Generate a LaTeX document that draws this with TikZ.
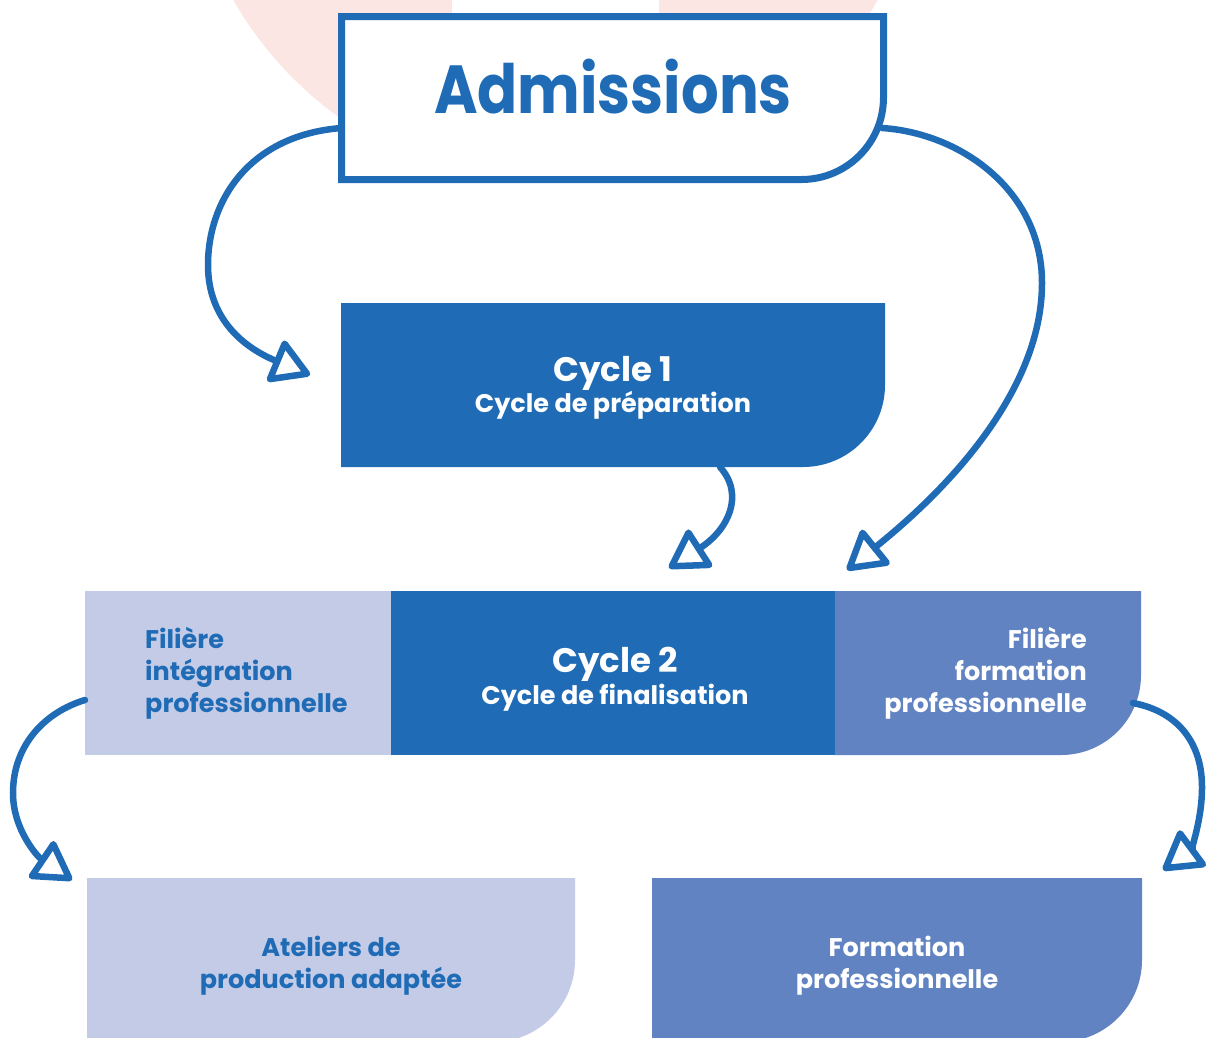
\documentclass[tikz,border=0pt]{standalone}
\usepackage{fontspec}
\setmainfont{Poppins}
\usetikzlibrary{arrows.meta}
\definecolor{dblue}{HTML}{1F6BB5}
\definecolor{lblue}{HTML}{C3CBE7}
\definecolor{mblue}{HTML}{6283C2}
\definecolor{pinkbg}{HTML}{FCE6E4}
\pgfdeclarelayer{bgpink}
\pgfdeclarelayer{bgbox}
\pgfsetlayers{bgpink,bgbox,main}
\newcommand\rshape[3]{\path[#2] (#1.north west) -- (#1.north east) -- ([yshift=#3]#1.south east) arc[start angle=0,end angle=-90,radius=#3] -- (#1.south west) -- cycle;}
\begin{document}
\begin{tikzpicture}[x=1pt,y=-1pt,
  boxn/.style={draw=none, inner sep=0pt, outer sep=0pt, rectangle},
  conn/.style={draw=dblue, line width=6.5pt, line cap=round,
    -{Triangle[open, length=42pt, width=48pt, line width=6.5pt, round]}},
  big/.style={font=\fontsize{68}{80}\selectfont\bfseries},
  head/.style={font=\fontsize{34}{40}\selectfont\bfseries},
  body/.style={font=\fontsize{25.5}{32}\selectfont\bfseries},
]
\useasboundingbox (0,0) rectangle (1206,1037);
% background pink shape
\begin{pgfonlayer}{bgpink}
\begin{scope}
\clip (0,0) rectangle (1206,1037);
\fill[pinkbg] (555.5,-184) circle[radius=371pt];
\fill[white] (452,-10) rectangle (659,220);
\end{scope}
\end{pgfonlayer}

% box nodes
\node[boxn, minimum width=542pt, minimum height=163pt] (adm) at (612.5,98) {};
\node[boxn, minimum width=544pt, minimum height=164pt] (c1) at (613,385) {};
\node[boxn, minimum width=306pt, minimum height=164pt] (fip) at (238,673) {};
\node[boxn, minimum width=444pt, minimum height=164pt] (c2) at (613,673) {};
\node[boxn, minimum width=306pt, minimum height=164pt] (ffp) at (988,673) {};
\node[boxn, minimum width=488pt, minimum height=164pt] (apa) at (331,960) {};
\node[boxn, minimum width=490pt, minimum height=164pt] (fp) at (897,960) {};

\begin{pgfonlayer}{bgbox}
\begin{scope}
\clip (0,0) rectangle (1206,1037);
\rshape{adm}{draw=dblue, fill=white, line width=7pt}{82pt}
\rshape{c1}{fill=dblue}{82pt}
\fill[lblue] (fip.north west) rectangle (fip.south east);
\fill[dblue] (c2.north west) rectangle (c2.south east);
\rshape{ffp}{fill=mblue}{80pt}
\rshape{apa}{fill=lblue}{82pt}
\rshape{fp}{fill=mblue}{82pt}
\end{scope}
\end{pgfonlayer}

% texts
\node[big, text=dblue, anchor=base] (admT) at (613,113) {\scalebox{0.87}[1]{Admissions}};
\node[head, text=white, anchor=base] (c1a) at (613,381) {Cycle 1};
\node[body, text=white, anchor=base] (c1b) at (613,412) {Cycle de préparation};
\node[head, text=white, anchor=base] (c2a) at (615,672) {Cycle 2};
\node[body, text=white, anchor=base] (c2b) at (615,704) {Cycle de finalisation};
\node[body, text=dblue, anchor=base west, align=left, inner sep=0pt] (fipT) at (145,712) {Filière\\intégration\\professionnelle};
\node[body, text=white, anchor=base east, align=right, inner sep=0pt] (ffpT) at (1087,712) {Filière\\formation\\professionnelle};
\node[body, text=dblue, anchor=base, align=center] (apaT) at (331,988) {Ateliers de\\production adaptée};
\node[body, text=white, anchor=base, align=center] (fpT) at (897,988) {Formation\\professionnelle};

% connector end points
\coordinate (t1) at ([xshift=-31pt,yshift=10pt]c1.west);
\coordinate (t2) at ([xshift=12pt,yshift=21pt]ffp.north west);
\coordinate (t3) at ([xshift=56pt,yshift=23pt]c2.north);
\coordinate (t4) at ([xshift=-15pt,yshift=-2pt]apa.north west);
\coordinate (t5) at ([xshift=21pt,yshift=8pt]fp.north east);

% connectors
\draw[conn] ([yshift=-30pt]adm.west) .. controls (250,135) and (208,200) .. (208,265)
   .. controls (208,320) and (245,348) .. (t1);
\draw[conn] ([xshift=-1.5pt,yshift=-30pt]adm.east) .. controls (960,133) and (1042,190) .. (1042,283)
   .. controls (1042,380) and (965,475) .. (t2);
\draw[conn] ([xshift=107pt]c1.south) .. controls (745,495) and (728,530) .. (t3);
\draw[conn] ([yshift=-27pt]fip.west) .. controls (45,712) and (13,745) .. (13,793)
   .. controls (13,830) and (38,857) .. (t4);
\draw[conn] ([xshift=-8pt,yshift=-30pt]ffp.east) .. controls (1180,712) and (1202,745) .. (1202,787)
   .. controls (1202,822) and (1190,850) .. (t5);
\end{tikzpicture}
\end{document}
